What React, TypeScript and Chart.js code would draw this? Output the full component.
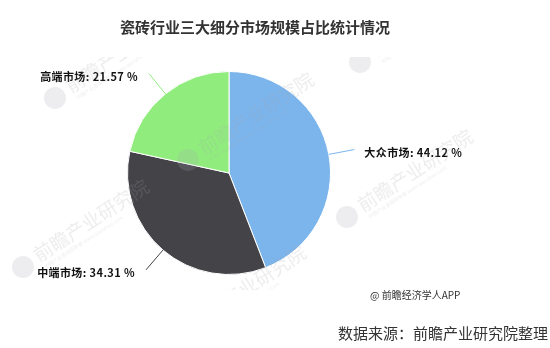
import React, { useEffect, useRef } from "react";
import { Chart, registerables } from "chart.js";

Chart.register(...registerables);

// Market segments and their share of the ceramic tile market (%)
const categories = ["大众市场", "中端市场", "高端市场"];
const shares = [44.12, 34.31, 21.57];
const sliceColors = ["#7cb5ec", "#434348", "#90ed7d"];

const titleText = "瓷砖行业三大细分市场规模占比统计情况";
const creditText = "@ 前瞻经济学人APP";
const sourceText = "数据来源：前瞻产业研究院整理";
const watermarkText = "前瞻产业研究院";

const CJK = '"Noto Sans CJK SC", "Noto Sans", sans-serif';

// Faint brand stamps laid over the plot (logo centre points)
const stampSpots: [number, number][] = [
  [55, 98],
  [188, 160],
  [23, 267],
  [347, 217],
  [180, 333],
  [360, 62],
];

function drawStamp(ctx: CanvasRenderingContext2D, x: number, y: number) {
  ctx.save();
  ctx.translate(x, y);
  ctx.rotate((-33 * Math.PI) / 180);
  ctx.fillStyle = "rgba(165,165,175,0.2)";
  ctx.beginPath();
  ctx.arc(0, 0, 11, 0, Math.PI * 2);
  ctx.fill();
  ctx.font = `19px ${CJK}`;
  ctx.textAlign = "left";
  ctx.textBaseline = "middle";
  ctx.fillText(watermarkText, 16, -2);
  ctx.font = `5px ${CJK}`;
  ctx.fillText("中国产业咨询领导者 www.qianzhan.com", 18, 12);
  ctx.restore();
}

const decorations = {
  id: "decorations",
  afterDatasetsDraw(chart: any) {
    const ctx: CanvasRenderingContext2D = chart.ctx;
    const meta = chart.getDatasetMeta(0);
    meta.data.forEach((arc: any, i: number) => {
      const { x, y, startAngle, endAngle, outerRadius } = arc.getProps(
        ["x", "y", "startAngle", "endAngle", "outerRadius"],
        true
      );
      const mid = (startAngle + endAngle) / 2;
      const cos = Math.cos(mid);
      const sin = Math.sin(mid);
      const ex = x + cos * outerRadius;
      const ey = y + sin * outerRadius;
      const lx = x + cos * (outerRadius + 26);
      const ly = y + sin * (outerRadius + 26);
      ctx.save();
      ctx.strokeStyle = sliceColors[i];
      ctx.lineWidth = 1;
      ctx.beginPath();
      ctx.moveTo(ex, ey);
      ctx.lineTo(lx, ly);
      ctx.stroke();
      const right = cos >= 0;
      ctx.font = `bold 11px ${CJK}`;
      (ctx as any).letterSpacing = "0.4px";
      ctx.fillStyle = "#111";
      ctx.textBaseline = "middle";
      ctx.textAlign = right ? "left" : "right";
      const label = `${categories[i]}: ${shares[i].toFixed(2)} %`;
      ctx.fillText(label, right ? lx + 10 : lx - 11, ly + 3);
      ctx.restore();
    });
  },
  afterDraw(chart: any) {
    const ctx: CanvasRenderingContext2D = chart.ctx;
    ctx.save();
    ctx.beginPath();
    ctx.rect(0, 57, chart.width, 233);
    ctx.clip();
    stampSpots.forEach(([x, y]) => drawStamp(ctx, x, y));
    ctx.restore();

    ctx.save();
    ctx.fillStyle = "#333";
    ctx.textBaseline = "middle";
    ctx.textAlign = "center";
    ctx.font = `bold 15px ${CJK}`;
    ctx.fillText(titleText, 255, 27);
    ctx.textAlign = "left";
    ctx.font = `10px ${CJK}`;
    ctx.fillText(creditText, 370, 295);
    ctx.font = `15px ${CJK}`;
    ctx.fillText(sourceText, 338, 333);
    ctx.restore();
  },
};

export default function App() {
  const canvasRef = useRef<HTMLCanvasElement | null>(null);

  useEffect(() => {
    const canvas = canvasRef.current;
    if (!canvas) return;
    const chart = new Chart(canvas, {
      type: "pie",
      data: {
        labels: categories,
        datasets: [
          {
            data: shares,
            backgroundColor: sliceColors,
            borderColor: "#ffffff",
            borderWidth: 1,
            hoverOffset: 0,
          },
        ],
      },
      options: {
        responsive: false,
        animation: false,
        events: [],
        layout: { padding: { top: 71, bottom: 73, left: 127, right: 219 } },
        plugins: {
          legend: { display: false },
          title: { display: false },
          tooltip: { enabled: false },
        },
      },
      plugins: [decorations],
    });
    return () => chart.destroy();
  }, []);

  return (
    <div
      style={{
        position: "absolute",
        left: 0,
        top: 0,
        width: 550,
        height: 348,
        background: "#ffffff",
      }}
    >
      <canvas ref={canvasRef} width={550} height={348} />
    </div>
  );
}
